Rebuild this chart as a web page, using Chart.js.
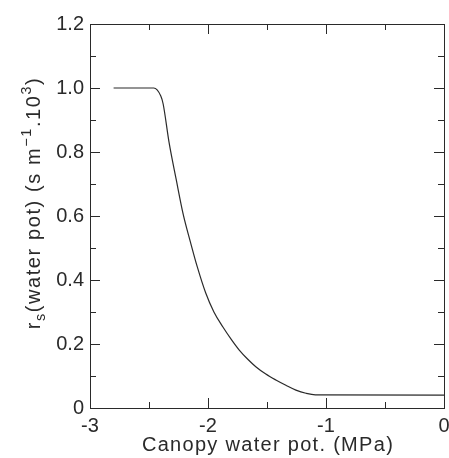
<!DOCTYPE html>
<html>
<head>
<meta charset="utf-8">
<script src="https://cdn.jsdelivr.net/npm/chart.js@4.4.1/dist/chart.umd.min.js"></script>
<style>
  html, body { margin: 0; padding: 0; background: #fff; }
  canvas { display: block; }
</style>
</head>
<body>
<canvas id="rsChart" width="449" height="458"></canvas>
<script>
// canopy water potential (MPa) and stomatal resistance (s m-1 .10^3)
const waterPot = [-2.80, -2.46, -2.40, -2.38, -2.33, -2.27, -2.21, -2.15, -2.09, -2.02, -1.95, -1.875, -1.80, -1.735, -1.665, -1.595, -1.51, -1.425, -1.34, -1.255, -1.17, -1.09, 0];
const rsValues = [1.0, 1.0, 0.975, 0.95, 0.83, 0.715, 0.605, 0.52, 0.44, 0.36, 0.30, 0.254, 0.213, 0.181, 0.153, 0.129, 0.106, 0.0875, 0.071, 0.056, 0.046, 0.041, 0.04];

const xTickLabels = ['-3', '-2', '-1', '0'];
const yTickLabels = ['0', '0.2', '0.4', '0.6', '0.8', '1.0', '1.2'];
const xMajor = [-3, -2, -1, 0];
const xMinor = [-2.5, -1.5, -0.5];
const yMajor = [0, 0.2, 0.4, 0.6, 0.8, 1.0, 1.2];
const yMinor = [0.1, 0.3, 0.5, 0.7, 0.9, 1.1];

const xTitle = 'Canopy water pot. (MPa)';
// [text, 0 normal / 1 subscript / -1 superscript]
const yTitleParts = [['r', 0], ['s', 1], ['(water pot) (s m', 0], ['\u22121', -1], ['.10', 0], ['3', -1], [')', 0]];

const FONT = '"Liberation Sans", Arial, sans-serif';
const INK = '#2a2a2a';

const points = waterPot.map((v, i) => ({ x: v, y: rsValues[i] }));

// write text char by char with some extra spacing (the original lettering is wide)
function spacedWidth(ctx, txt, sp) {
  let w = 0;
  for (const ch of txt) w += ctx.measureText(ch).width + sp;
  return w;
}
function spacedText(ctx, txt, x, y, sp) {
  for (const ch of txt) {
    ctx.fillText(ch, x, y);
    x += ctx.measureText(ch).width + sp;
  }
  return x;
}

// frame with inward ticks on all four sides, plus both axis titles
const frameTicks = {
  id: 'frameTicks',
  afterDraw(chart) {
    const { ctx, chartArea: a, scales: { x, y } } = chart;
    ctx.save();
    ctx.strokeStyle = INK;
    ctx.lineWidth = 1;
    ctx.strokeRect(a.left + 0.5, a.top + 0.5, a.right - a.left, a.bottom - a.top);

    function line(x1, y1, x2, y2) {
      ctx.beginPath();
      ctx.moveTo(x1, y1);
      ctx.lineTo(x2, y2);
      ctx.stroke();
    }
    function tickX(v, len) {
      const px = Math.round(x.getPixelForValue(v)) + 0.5;
      line(px, a.bottom, px, a.bottom - len);
      line(px, a.top, px, a.top + len);
    }
    function tickY(v, len) {
      const py = Math.round(y.getPixelForValue(v)) + 0.5;
      line(a.left, py, a.left + len, py);
      line(a.right, py, a.right - len, py);
    }
    xMajor.forEach(v => tickX(v, 10));
    xMinor.forEach(v => tickX(v, 6));
    yMajor.forEach(v => tickY(v, 10));
    yMinor.forEach(v => tickY(v, 6));

    const size = 20;
    ctx.fillStyle = INK;
    ctx.textBaseline = 'alphabetic';
    ctx.textAlign = 'left';

    // x axis title
    ctx.font = size + 'px ' + FONT;
    const xw = spacedWidth(ctx, xTitle, 1.3);
    spacedText(ctx, xTitle, (a.left + a.right) / 2 - xw / 2 + 1, 451, 1.3);

    // y axis title
    let total = 0;
    yTitleParts.forEach(p => {
      ctx.font = (p[1] ? size * 0.72 : size) + 'px ' + FONT;
      total += spacedWidth(ctx, p[0], 1.6);
    });
    ctx.translate(40, 203);
    ctx.rotate(-Math.PI / 2);
    let pos = -total / 2;
    yTitleParts.forEach(p => {
      ctx.font = (p[1] ? size * 0.72 : size) + 'px ' + FONT;
      const shift = p[1] === 1 ? 5 : (p[1] === -1 ? -9 : 0);
      pos = spacedText(ctx, p[0], pos, shift, 1.6);
    });
    ctx.restore();
  }
};

const ctx = document.getElementById('rsChart').getContext('2d');
const rsChart = new Chart(ctx, {
  type: 'scatter',
  data: {
    datasets: [{
      data: points,
      showLine: true,
      borderColor: INK,
      borderWidth: 1.2,
      pointRadius: 0,
      cubicInterpolationMode: 'monotone'
    }]
  },
  options: {
    responsive: false,
    animation: false,
    devicePixelRatio: 1,
    layout: { padding: { top: 24, right: 5, left: 0, bottom: 0 } },
    plugins: {
      legend: { display: false },
      tooltip: { enabled: false }
    },
    scales: {
      x: {
        type: 'linear',
        min: -3,
        max: 0,
        grid: { display: false, drawTicks: false },
        border: { display: false },
        ticks: {
          stepSize: 1,
          padding: 6,
          maxRotation: 0,
          color: INK,
          font: { family: FONT, size: 20 },
          callback: (v, i) => xTickLabels[i]
        },
        afterFit: s => { s.height = 50; s.paddingLeft = 0; s.paddingRight = 0; }
      },
      y: {
        min: 0,
        max: 1.2,
        grid: { display: false, drawTicks: false },
        border: { display: false },
        ticks: {
          stepSize: 0.2,
          padding: 6,
          color: INK,
          font: { family: FONT, size: 20 },
          callback: (v, i) => yTickLabels[i]
        },
        afterFit: s => { s.width = 90; s.paddingTop = 0; s.paddingBottom = 0; }
      }
    }
  },
  plugins: [frameTicks]
});
</script>
</body>
</html>
